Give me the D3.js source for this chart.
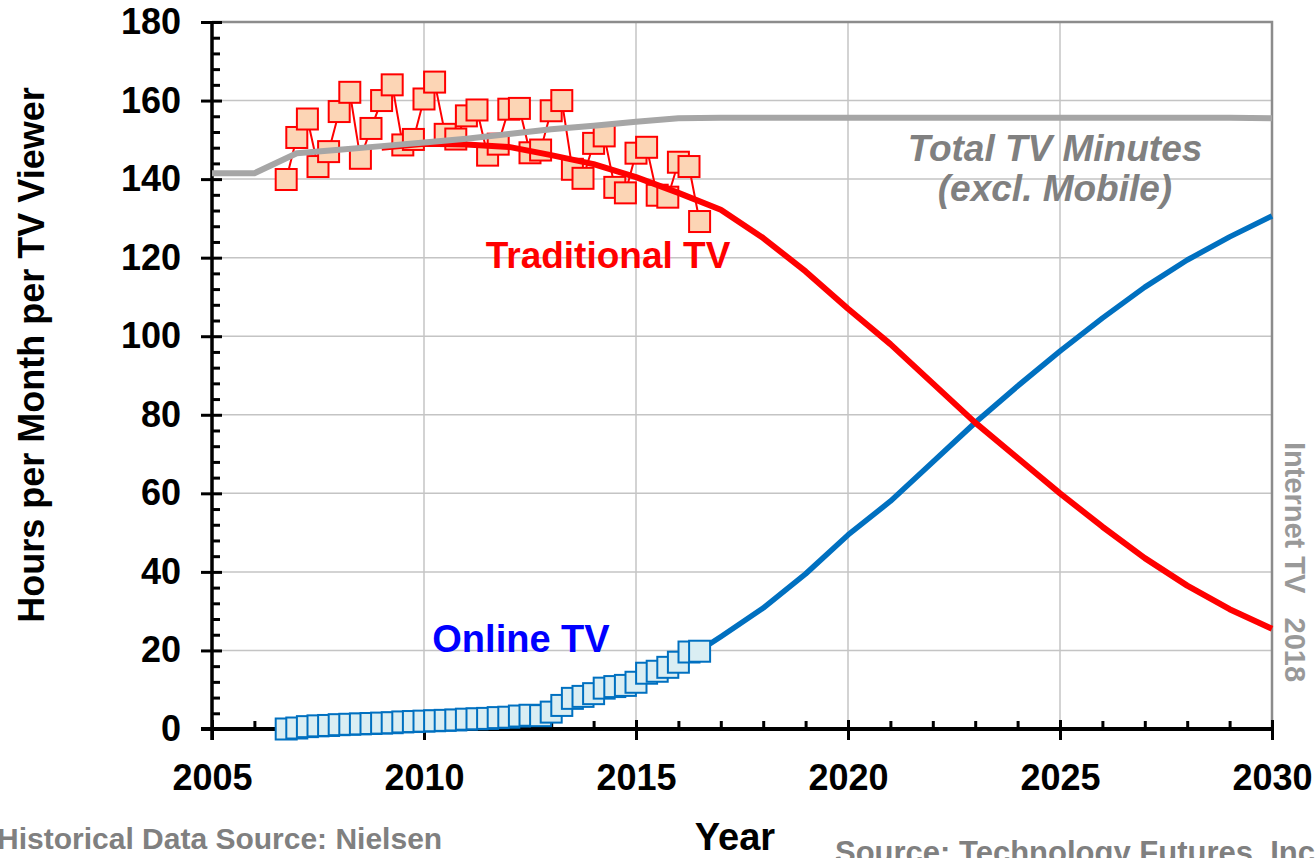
<!DOCTYPE html>
<html>
<head>
<meta charset="utf-8">
<script src="https://cdnjs.cloudflare.com/ajax/libs/d3/7.8.5/d3.min.js"></script>
<style>
  html, body { margin: 0; padding: 0; background: #fff; }
  svg { display: block; font-family: "Liberation Sans", Arial, sans-serif; }
</style>
</head>
<body>
<svg id="chart" width="1316" height="858"></svg>
<script>
// quarterly Nielsen history, first quarter = 2006.75
const QUARTER_START = 2006.75;

const traditionalHist = [139.9, 150.6, 155.3, 143.2, 147.0, 157.2, 162.1, 145.3, 152.9, 160.0,
    164.0, 148.7, 150.1, 160.4, 164.7, 151.4, 150.2, 156.1, 157.6, 146.1,
    148.9, 157.8, 158.0, 146.7, 147.4, 157.4, 160.0, 142.5, 140.2, 149.1,
    151.0, 137.9, 136.5, 146.6, 148.1, 135.9, 135.4, 144.3, 143.2, 129.2];

const onlineHist = [0.0, 0.25, 0.6, 0.8, 0.9, 1.1, 1.2, 1.3, 1.4, 1.5,
    1.6, 1.8, 1.9, 2.0, 2.1, 2.2, 2.3, 2.5, 2.6, 2.7,
    2.9, 3.0, 3.3, 3.5, 3.4, 4.3, 6.0, 7.8, 8.3, 9.0,
    10.4, 10.8, 11.1, 11.9, 14.2, 14.7, 15.7, 17.0, 19.6, 19.8];

// forecast curves
const traditionalYears = [2009, 2010, 2011, 2012, 2013, 2014, 2015, 2016, 2017, 2018, 2019,
    2020, 2021, 2022, 2023, 2024, 2025, 2026, 2027, 2028, 2029, 2030];
const traditionalFcst = [148.0, 149.0, 148.8, 148.2, 146.1, 143.8, 140.5, 136.5, 132.2, 125.0, 116.5,
    107.0, 98.0, 88.0, 78.0, 69.0, 60.0, 51.5, 43.5, 36.5, 30.5, 25.5];

const onlineYears = [2016.5, 2017, 2018, 2019, 2020, 2021, 2022, 2023, 2024, 2025, 2026, 2027, 2028, 2029, 2030];
const onlineFcst = [20.0, 23.5, 30.8, 39.5, 49.4, 58.0, 68.0, 78.0, 87.3, 96.2, 104.6, 112.5, 119.4, 125.3, 130.6];

const totalYears = [2005, 2006, 2007, 2008, 2009, 2010, 2011, 2012, 2013, 2014, 2015, 2016,
    2017, 2018, 2019, 2020, 2021, 2022, 2023, 2024, 2025, 2026, 2027, 2028, 2029, 2030];
const totalTV = [141.5, 141.5, 146.6, 147.5, 148.4, 149.3, 150.3, 151.5, 152.7, 153.6, 154.6, 155.5,
    155.6, 155.6, 155.6, 155.6, 155.6, 155.6, 155.6, 155.6, 155.6, 155.6, 155.6, 155.6, 155.6, 155.5];

const yTicks = [0, 20, 40, 60, 80, 100, 120, 140, 160, 180];
const xTicks = [2005, 2010, 2015, 2020, 2025, 2030];

const svg = d3.select('#chart');

const x = d3.scaleLinear().domain([2005, 2030]).range([212, 1272]),
    y = d3.scaleLinear().domain([0, 180]).range([729, 22]);

const FONT_TICK = 36;

// grid
svg.append('g').selectAll('line').data(yTicks.slice(1, -1)).join('line')
    .attr('x1', x(2005)).attr('x2', x(2030))
    .attr('y1', d => y(d)).attr('y2', d => y(d))
    .attr('stroke', '#c4c4c4').attr('stroke-width', 1.5);
svg.append('g').selectAll('line').data(xTicks.slice(1, -1)).join('line')
    .attr('x1', d => x(d)).attr('x2', d => x(d))
    .attr('y1', y(0)).attr('y2', y(180))
    .attr('stroke', '#c4c4c4').attr('stroke-width', 1.5);

// frame top and right
svg.append('path')
    .attr('d', `M${x(2005)},${y(180)}H${x(2030)}V${y(0)}`)
    .attr('fill', 'none').attr('stroke', '#8c8c8c').attr('stroke-width', 2.5);

// axes
function styleAxis(g) {
    g.select('.domain').remove();
    g.selectAll('line').attr('stroke', '#000').attr('stroke-width', 3);
    g.selectAll('text').attr('font-size', FONT_TICK).attr('font-weight', 'bold').attr('fill', '#000')
        .attr('font-family', '"Liberation Sans", Arial, sans-serif');
}

const yMinor = d3.range(0, 181, 4).filter(d => d % 20 !== 0);
const xMinor = d3.range(2005, 2031).filter(d => d % 5 !== 0);

svg.append('g').attr('transform', `translate(${x(2005)},0)`)
    .call(d3.axisLeft(y).tickValues(yTicks).tickSize(11).tickPadding(20))
    .call(styleAxis);
svg.append('g').attr('transform', `translate(${x(2005)},0)`)
    .call(d3.axisRight(y).tickValues(yTicks).tickSize(10).tickFormat(''))
    .call(styleAxis);
svg.append('g').attr('transform', `translate(${x(2005)},0)`)
    .call(d3.axisRight(y).tickValues(yMinor).tickSize(8).tickFormat(''))
    .call(styleAxis);

svg.append('g').attr('transform', `translate(0,${y(0)})`)
    .call(d3.axisBottom(x).tickValues(xTicks).tickSize(11).tickPadding(24).tickFormat(d3.format('d')))
    .call(styleAxis);
svg.append('g').attr('transform', `translate(0,${y(0)})`)
    .call(d3.axisTop(x).tickValues(xTicks).tickSize(9).tickFormat(''))
    .call(styleAxis);
svg.append('g').attr('transform', `translate(0,${y(0)})`)
    .call(d3.axisTop(x).tickValues(xMinor).tickSize(8).tickFormat(''))
    .call(styleAxis);

// axis lines
svg.append('line').attr('x1', x(2005)).attr('x2', x(2005)).attr('y1', y(180) - 1).attr('y2', y(0) + 11)
    .attr('stroke', '#000').attr('stroke-width', 3.5);
svg.append('line').attr('x1', x(2005) - 11).attr('x2', x(2030)).attr('y1', y(0)).attr('y2', y(0))
    .attr('stroke', '#000').attr('stroke-width', 4);

// series
const qYear = i => QUARTER_START + i * 0.25;
const line = d3.line().x(d => x(d[0])).y(d => y(d[1]));

const onlinePts = onlineHist.map((v, i) => [qYear(i), v]),
    tradPts = traditionalHist.map((v, i) => [qYear(i), v]);

svg.append('path').datum(onlineYears.map((yr, i) => [yr, onlineFcst[i]]))
    .attr('d', line).attr('fill', 'none').attr('stroke', '#0070c0').attr('stroke-width', 5.5)
    .attr('stroke-linejoin', 'round');

const MS = 21;

svg.append('path').datum(onlinePts).attr('d', line)
    .attr('fill', 'none').attr('stroke', '#0070c0').attr('stroke-width', 2);
svg.append('g').selectAll('rect').data(onlinePts).join('rect')
    .attr('x', d => x(d[0]) - MS / 2).attr('y', d => y(d[1]) - MS / 2)
    .attr('width', MS).attr('height', MS)
    .attr('fill', '#daeef3').attr('stroke', '#0070c0').attr('stroke-width', 2);

svg.append('path').datum(tradPts).attr('d', line)
    .attr('fill', 'none').attr('stroke', '#ff0000').attr('stroke-width', 2);
svg.append('g').selectAll('rect').data(tradPts).join('rect')
    .attr('x', d => x(d[0]) - MS / 2).attr('y', d => y(d[1]) - MS / 2)
    .attr('width', MS).attr('height', MS)
    .attr('fill', '#fcd5b5').attr('stroke', '#ff0000').attr('stroke-width', 2);

svg.append('path').datum(traditionalYears.map((yr, i) => [yr, traditionalFcst[i]]))
    .attr('d', line).attr('fill', 'none').attr('stroke', '#ff0000').attr('stroke-width', 6)
    .attr('stroke-linejoin', 'round');

svg.append('path').datum(totalYears.map((yr, i) => [yr, totalTV[i]]))
    .attr('d', line).attr('fill', 'none').attr('stroke', '#a6a6a6').attr('stroke-width', 6)
    .attr('stroke-linejoin', 'round');

// labels
svg.append('text').text('Traditional TV')
    .attr('x', 608).attr('y', 268).attr('text-anchor', 'middle')
    .attr('font-size', 37).attr('font-weight', 'bold').attr('fill', '#ff0000');

svg.append('text').text('Online TV')
    .attr('x', 521).attr('y', 652).attr('text-anchor', 'middle')
    .attr('font-size', 38).attr('font-weight', 'bold').attr('fill', '#0000ff');

svg.append('text').text('Total TV Minutes')
    .attr('x', 1055).attr('y', 161).attr('text-anchor', 'middle')
    .attr('font-size', 37).attr('font-weight', 'bold').attr('font-style', 'italic').attr('fill', '#808080');
svg.append('text').text('(excl. Mobile)')
    .attr('x', 1055).attr('y', 201).attr('text-anchor', 'middle')
    .attr('font-size', 37).attr('font-weight', 'bold').attr('font-style', 'italic').attr('fill', '#808080');

svg.append('text').text('Internet TV   2018')
    .attr('transform', 'translate(1285,562) rotate(90)')
    .attr('text-anchor', 'middle').attr('xml:space', 'preserve').style('white-space', 'pre')
    .attr('font-size', 29).attr('font-weight', 'bold').attr('fill', '#999999');

svg.append('text').text('Hours per Month per TV Viewer')
    .attr('transform', 'translate(44,355) rotate(-90)')
    .attr('text-anchor', 'middle')
    .attr('font-size', 36).attr('font-weight', 'bold').attr('fill', '#000');

svg.append('text').text('Year')
    .attr('x', 735).attr('y', 850).attr('text-anchor', 'middle')
    .attr('font-size', 38).attr('font-weight', 'bold').attr('fill', '#000');

svg.append('text').text('Historical Data Source: Nielsen')
    .attr('x', -3).attr('y', 849)
    .attr('font-size', 30).attr('font-weight', 'bold').attr('fill', '#808080');

svg.append('text').text('Source: Technology Futures, Inc.')
    .attr('x', 835).attr('y', 863)
    .attr('font-size', 31).attr('font-weight', 'bold').attr('fill', '#808080');
</script>
</body>
</html>
